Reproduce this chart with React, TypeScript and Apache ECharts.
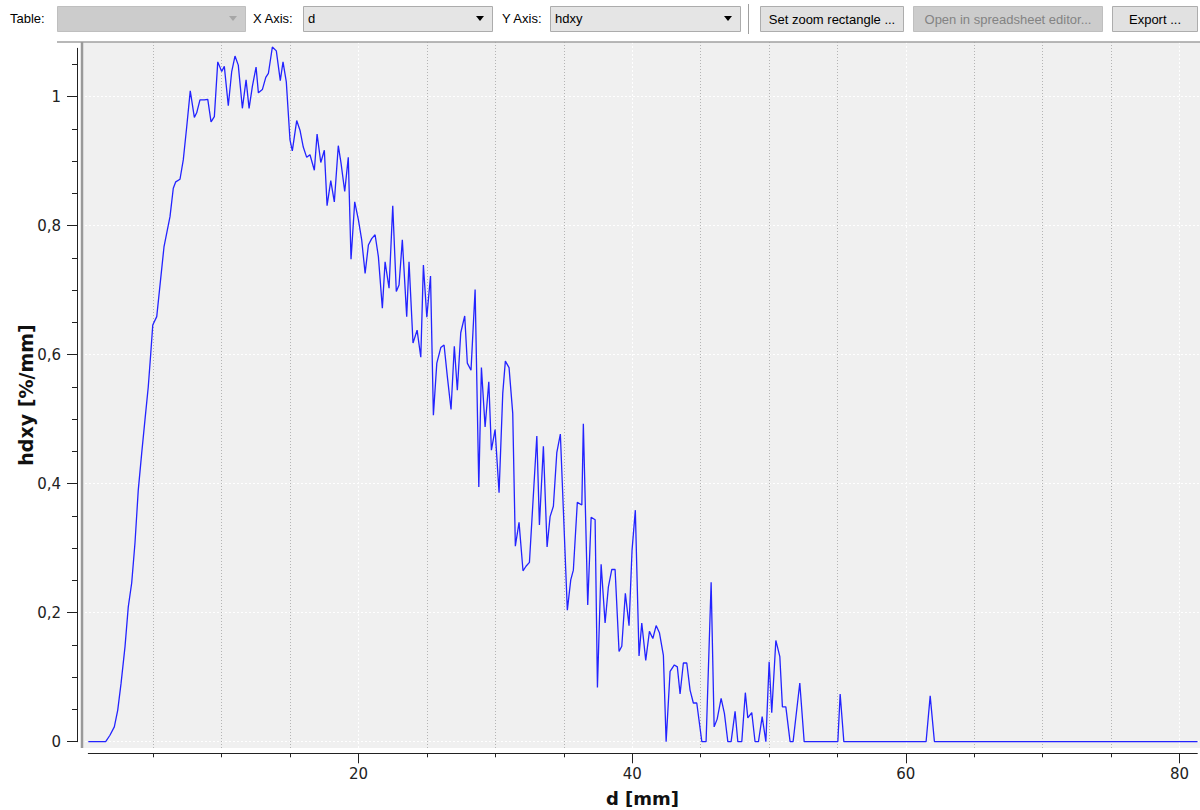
import React, { useEffect, useRef } from "react";
import * as echarts from "echarts";

// d [mm] values of the curve vertices
const dValues = [
  0.25, 1.52, 1.83, 2.15, 2.4, 2.64, 2.93, 3.17, 3.42, 3.66, 3.9, 4.15, 4.39, 4.63, 4.81, 4.96,
  5.25, 5.78, 6.22, 6.46, 6.64, 6.95, 7.19, 7.44, 7.7, 8.0, 8.17, 8.41, 8.73, 8.98, 9.22, 9.46,
  9.71, 10.0, 10.19, 10.48, 10.73, 10.97, 11.21, 11.51, 11.78, 12.0, 12.24, 12.51, 12.68, 12.97,
  13.22, 13.41, 13.7, 13.99, 14.28, 14.48, 14.72, 14.99, 15.16, 15.48, 15.72, 15.96, 16.21, 16.45,
  16.77, 16.97, 17.24, 17.5, 17.7, 17.97, 18.23, 18.52, 18.72, 18.99, 19.25, 19.45, 19.72, 19.99,
  20.23, 20.48, 20.72, 20.96, 21.21, 21.45, 21.74, 21.94, 22.23, 22.5, 22.76, 22.96, 23.2, 23.52,
  23.69, 23.98, 24.28, 24.55, 24.74, 24.99, 25.26, 25.47, 25.72, 26.01, 26.25, 26.49, 26.76, 27.0,
  27.22, 27.47, 27.76, 27.95, 28.22, 28.52, 28.79, 28.98, 29.25, 29.52, 29.71, 29.98, 30.27, 30.54,
  30.73, 31.0, 31.27, 31.46, 31.73, 32.02, 32.24, 32.49, 33.03, 33.22, 33.51, 33.78, 34.0, 34.24,
  34.49, 34.75, 35.26, 35.51, 35.7, 35.99, 36.32, 36.43, 36.75, 37.0, 37.29, 37.46, 37.73, 38.02,
  38.26, 38.51, 38.75, 39.04, 39.24, 39.5, 39.77, 39.99, 40.23, 40.5, 40.7, 40.99, 41.26, 41.51,
  41.75, 41.99, 42.28, 42.48, 42.77, 43.08, 43.3, 43.5, 43.74, 43.99, 44.23, 44.47, 44.72, 45.09,
  45.4, 45.77, 45.99, 46.21, 46.5, 46.74, 46.99, 47.23, 47.52, 47.72, 48.01, 48.27, 48.45, 48.74,
  48.98, 49.23, 49.5, 49.77, 50.01, 50.2, 50.5, 50.79, 50.98, 51.23, 51.54, 51.76, 52.25, 52.57,
  55.03, 55.2, 55.47, 61.48, 61.78, 62.09, 81.32,
];

// hdxy [%/mm] values matching dValues
const hdxyValues = [
  0, 0, 0.01, 0.023, 0.049, 0.09, 0.147, 0.209, 0.246, 0.308, 0.39, 0.447, 0.499, 0.55, 0.601, 0.646,
  0.659, 0.767, 0.814, 0.858, 0.868, 0.872, 0.902, 0.953, 1.009, 0.968, 0.975, 0.995, 0.995, 0.996, 0.961, 0.969,
  1.054, 1.039, 1.047, 0.986, 1.039, 1.063, 1.049, 0.982, 1.026, 0.982, 1.016, 1.046, 1.006, 1.011,
  1.03, 1.036, 1.077, 1.071, 1.025, 1.054, 1.023, 0.933, 0.916, 0.963, 0.948, 0.922, 0.906, 0.91,
  0.886, 0.942, 0.898, 0.917, 0.831, 0.87, 0.837, 0.924, 0.897, 0.853, 0.906, 0.748, 0.837, 0.809,
  0.778, 0.726, 0.77, 0.78, 0.786, 0.752, 0.672, 0.744, 0.703, 0.831, 0.698, 0.708, 0.778, 0.659,
  0.744, 0.618, 0.638, 0.596, 0.739, 0.658, 0.722, 0.506, 0.587, 0.611, 0.615, 0.566, 0.515, 0.613,
  0.545, 0.634, 0.66, 0.587, 0.576, 0.701, 0.395, 0.58, 0.488, 0.558, 0.452, 0.484, 0.386, 0.54,
  0.59, 0.58, 0.509, 0.303, 0.34, 0.265, 0.272, 0.278, 0.474, 0.336, 0.458, 0.302, 0.349, 0.365,
  0.448, 0.477, 0.204, 0.251, 0.266, 0.371, 0.367, 0.493, 0.212, 0.348, 0.344, 0.084, 0.275, 0.184,
  0.24, 0.267, 0.267, 0.14, 0.148, 0.23, 0.18, 0.297, 0.359, 0.133, 0.184, 0.126, 0.171, 0.16,
  0.18, 0.169, 0.134, 0, 0.109, 0.119, 0.116, 0.074, 0.122, 0.122, 0.08, 0.06, 0.06, 0,
  0, 0.247, 0.023, 0.035, 0.067, 0.044, 0, 0, 0.047, 0, 0, 0.076, 0.037, 0.045,
  0, 0, 0.039, 0, 0.124, 0.045, 0.157, 0.132, 0.054, 0.054, 0, 0, 0.091, 0,
  0, 0.074, 0, 0, 0.071, 0, 0,
];

const xTickValues = [20, 40, 60, 80];
const yTickValues = [0, 0.2, 0.4, 0.6, 0.8, 1];
const xAxisName = "d [mm]";
const yAxisName = "hdxy [%/mm]";
const toolbarLabels = ["Table:", "X Axis:", "Y Axis:"];
const comboTexts = ["", "d", "hdxy"];
const buttonTexts = ["Set zoom rectangle ...", "Open in spreadsheet editor...", "Export ..."];

const UI_FONT = "'Liberation Sans', Arial, sans-serif";
const AX_FONT = "'DejaVu Sans', Verdana, sans-serif";

function buildToolbar() {
  const els: any[] = [];
  const labelX = [10, 253, 502];
  labelX.forEach((x, i) => {
    els.push({
      type: "text", left: x, top: 12, silent: true,
      style: { text: toolbarLabels[i], font: `13px ${UI_FONT}`, fill: "#000" },
    });
  });
  const combos = [
    { x: 57, w: 188, disabled: true },
    { x: 303, w: 189, disabled: false },
    { x: 550, w: 190, disabled: false },
  ];
  combos.forEach((c, i) => {
    els.push({
      type: "rect", silent: true,
      shape: { x: c.x + 0.5, y: 6.5, width: c.w, height: 25 },
      style: { fill: c.disabled ? "#cccccc" : "#e5e5e5", stroke: c.disabled ? "#bfbfbf" : "#acacac", lineWidth: 1 },
    });
    if (comboTexts[i]) {
      els.push({
        type: "text", left: c.x + 5, top: 12, silent: true,
        style: { text: comboTexts[i], font: `13px ${UI_FONT}`, fill: "#000" },
      });
    }
    const ax = c.x + c.w - 12;
    els.push({
      type: "polygon", silent: true,
      shape: { points: [[ax - 4, 16], [ax + 4, 16], [ax, 21]] },
      style: { fill: c.disabled ? "#a6a6a6" : "#000" },
    });
  });
  els.push({
    type: "line", silent: true,
    shape: { x1: 748.5, y1: 4, x2: 748.5, y2: 34 },
    style: { stroke: "#a0a0a0", lineWidth: 1 },
  });
  const buttons = [
    { x: 760, w: 143, disabled: false },
    { x: 913, w: 189, disabled: true },
    { x: 1112, w: 85, disabled: false },
  ];
  buttons.forEach((b, i) => {
    els.push({
      type: "rect", silent: true,
      shape: { x: b.x + 0.5, y: 6.5, width: b.w, height: 25 },
      style: { fill: b.disabled ? "#cccccc" : "#e1e1e1", stroke: b.disabled ? "#bfbfbf" : "#adadad", lineWidth: 1 },
    });
    els.push({
      type: "text", silent: true, x: b.x + b.w / 2 + 0.5, y: 19.5,
      style: {
        text: buttonTexts[i], font: `13px ${UI_FONT}`,
        fill: b.disabled ? "#838383" : "#000", align: "center", verticalAlign: "middle",
      },
    });
  });
  // frame lines around the plot area (top and left)
  els.push({
    type: "line", silent: true, z: 10,
    shape: { x1: 57, y1: 42, x2: 1200, y2: 42 },
    style: { stroke: "#a0a0a0", lineWidth: 1.5 },
  });
  els.push({
    type: "line", silent: true, z: 10,
    shape: { x1: 82, y1: 42, x2: 82, y2: 748 },
    style: { stroke: "#999999", lineWidth: 2.5 },
  });
  return els;
}

export default function App() {
  const ref = useRef<HTMLDivElement>(null);

  useEffect(() => {
    if (!ref.current) return;
    const chart = echarts.init(ref.current, null, { renderer: "svg" });
    const data = dValues.map((d, i) => [d, hdxyValues[i]]);
    const dotted = { color: "#ffffff", width: 1, type: [2, 2] as any };
    const option: any = {
      animation: false,
      backgroundColor: "#ffffff",
      textStyle: { fontFamily: AX_FONT },
      grid: [
        { left: 81, top: 42, right: 0, bottom: 62, show: true, backgroundColor: "#f0f0f0", borderWidth: 0, outerBoundsMode: "none" },
        { left: 84.9, top: 42, right: 0, bottom: 62, outerBoundsMode: "none" },
        { left: 77, top: 48.3, right: 0, bottom: 68.3, outerBoundsMode: "none" },
        { left: 88.3, top: 42, right: 2.7, bottom: 56.7, outerBoundsMode: "none" },
      ],
      xAxis: [
        { gridIndex: 0, type: "value", min: 0, max: 1, show: false },
        {
          gridIndex: 1, type: "value", min: 0, max: 81.5, interval: 20, offset: 5.3,
          axisLine: { show: false, onZero: false },
          axisTick: { show: true, customValues: xTickValues, length: 10, lineStyle: { color: "#222", width: 1 } },
          minorTick: { show: true, splitNumber: 4, length: 4, lineStyle: { color: "#222", width: 1 } },
          axisLabel: { show: true, customValues: xTickValues, fontSize: 15, margin: 13, color: "#222", fontFamily: AX_FONT },
          splitLine: { show: true, lineStyle: dotted },
          minorSplitLine: { show: true, lineStyle: { color: "#b4b4b4", width: 1, type: [1, 2] } },
          name: xAxisName, nameLocation: "middle", nameGap: 36, nameMoveOverlap: false,
          nameTextStyle: { fontSize: 18, fontWeight: "bold", color: "#111", fontFamily: AX_FONT },
        },
        { gridIndex: 2, type: "value", min: 0, max: 1, show: false },
        {
          gridIndex: 3, type: "value", min: 0, max: 1,
          axisLine: { show: true, onZero: false, lineStyle: { color: "#222", width: 1 } },
          axisTick: { show: false }, axisLabel: { show: false }, splitLine: { show: false },
        },
      ],
      yAxis: [
        { gridIndex: 0, type: "value", min: 0, max: 1, show: false },
        { gridIndex: 1, type: "value", min: -0.00977, max: 1.08481, show: false },
        {
          gridIndex: 2, type: "value", min: 0, max: 1.075, interval: 0.2,
          axisLine: { show: true, onZero: false, lineStyle: { color: "#222", width: 1 } },
          axisTick: { show: true, customValues: yTickValues, length: 10, lineStyle: { color: "#222", width: 1 } },
          minorTick: { show: true, splitNumber: 4, length: 5, lineStyle: { color: "#222", width: 1 } },
          axisLabel: {
            show: true, customValues: yTickValues, fontSize: 15, margin: 16, color: "#222", fontFamily: AX_FONT,
            formatter: (v: number) => String(v).replace(".", ","),
          },
          splitLine: { show: true, lineStyle: dotted },
          name: yAxisName, nameLocation: "middle", nameGap: 42, nameRotate: 90, nameMoveOverlap: false,
          nameTextStyle: { fontSize: 19, fontWeight: "bold", color: "#111", fontFamily: AX_FONT },
        },
        { gridIndex: 3, type: "value", min: 0, max: 1, show: false },
      ],
      series: [
        {
          type: "line", xAxisIndex: 1, yAxisIndex: 1, data,
          showSymbol: false, symbol: "none",
          lineStyle: { color: "#2323ff", width: 1.3 },
          z: 5,
        },
      ],
      graphic: buildToolbar(),
    };
    chart.setOption(option);
    return () => chart.dispose();
  }, []);

  return (
    <div
      ref={ref}
      style={{ position: "absolute", left: 0, top: 0, width: 1200, height: 810, background: "#fff" }}
    />
  );
}
